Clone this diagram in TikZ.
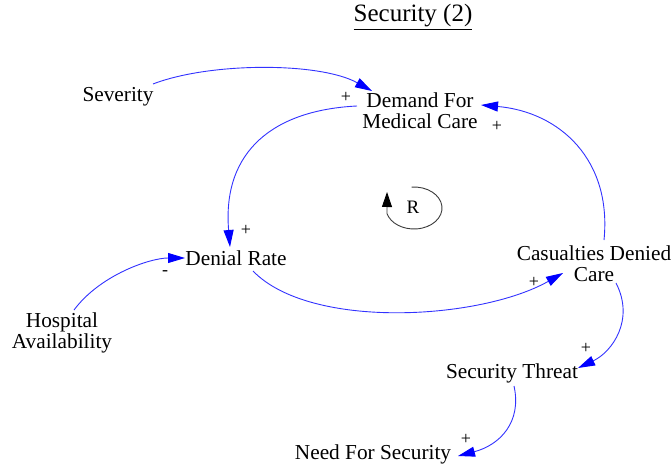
\documentclass[tikz,border=0pt]{standalone}
\usepackage{fontspec}
\setmainfont{Liberation Serif}
\usetikzlibrary{arrows.meta,calc}
\begin{document}
\begin{tikzpicture}[x=1pt,y=-1pt,
  lbl/.style={font=\fontsize{21.3}{21}\selectfont,align=center,inner sep=0pt},
  sgn/.style={font=\fontsize{18}{18}\selectfont,inner sep=0pt},
  link/.style={draw={rgb,255:red,50;green,50;blue,255},line width=0.9pt,-{Triangle[length=17pt,width=10pt,fill=blue,color=blue]}},
  loopc/.style={draw={rgb,255:red,60;green,60;blue,60},line width=0.9pt,-{Triangle[length=15pt,width=10pt,fill=black,color=black]}}]
\useasboundingbox (0,0) rectangle (671,465);
\node[lbl,font=\fontsize{25}{25}\selectfont] (title) at (413,17) {\underline{Security (2)}};
\node[lbl] (sev) at (118,97) {Severity};
\node[lbl] (dem) at (420,111) {Demand For\\Medical Care};
\node[lbl] (den) at (236,258) {Denial Rate};
\node[lbl] (cas) at (594,264) {Casualties Denied\\Care};
\node[lbl] (hos) at (62,333) {Hospital\\Availability};
\node[lbl] (thr) at (512,373) {Security Threat};
\node[lbl] (need) at (373,454) {Need For Security};
\node[lbl,font=\fontsize{19}{19}\selectfont] (r) at (413,207) {R};
% links
\draw[link] ($(sev)+(35,-13)$) .. controls (210,62) and (320,62) .. ($(dem)+(-48,-20)$);
\draw[link] ($(dem)+(-63,-5)$) .. controls (275,110) and (222,150) .. ($(den)+(-6,-11)$);
\draw[link] ($(den)+(17,13)$) .. controls (310,330) and (480,320) .. ($(cas)+(-31,9)$);
\draw[link] ($(cas)+(10,-24)$) .. controls (612,160) and (560,112) .. ($(dem)+(61,-6)$);
\draw[link] ($(hos)+(12,-23)$) .. controls (100,275) and (150,258) .. ($(den)+(-51,0)$);
\draw[link] ($(cas)+(22,19)$) .. controls (635,320) and (612,352) .. ($(thr)+(66,-5)$);
\draw[link] ($(thr)+(2,13)$) .. controls (522,422) and (500,445) .. ($(need)+(85,2)$);
% signs
\node[sgn] (s1) at (346,97) {+};
\node[sgn] (s2) at (246,230) {+};
\node[sgn] (s3) at (534,282) {+};
\node[sgn] (s4) at (497,126) {+};
\node[sgn] (s5) at (586,348) {+};
\node[sgn] (s6) at (466,439) {+};
\node[sgn] (s7) at (165,273) {-};
% loop symbol
\coordinate (lc) at (414,208);
\draw[loopc] ($(lc)+(-95:28 and 21)$) arc[start angle=-95,end angle=165,x radius=28,y radius=21] -- (387,192);
\end{tikzpicture}
\end{document}
